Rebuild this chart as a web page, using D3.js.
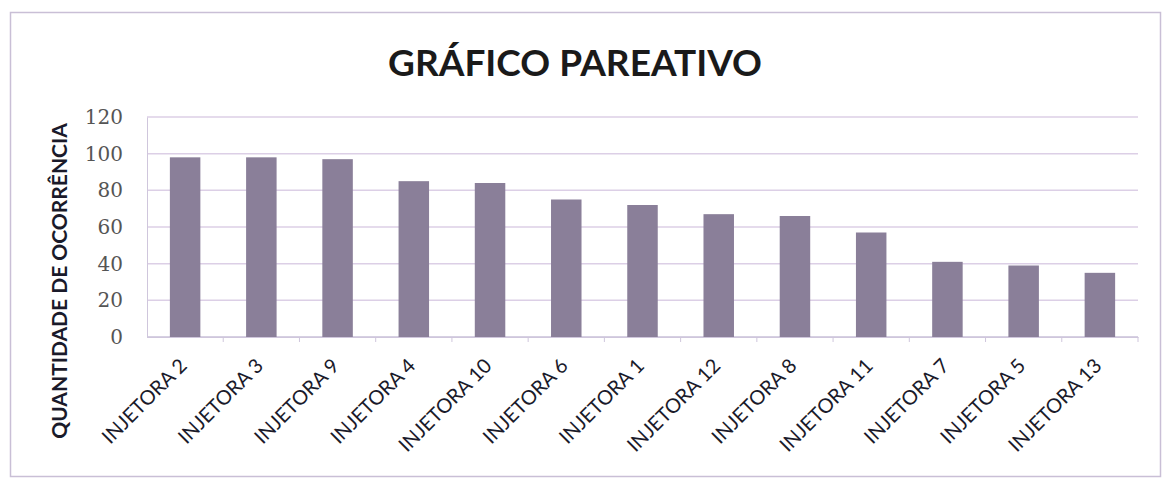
<!DOCTYPE html>
<html>
<head>
<meta charset="utf-8">
<script src="https://cdn.jsdelivr.net/npm/d3@7"></script>
<style>
  body { margin: 0; background: #fff; }
</style>
</head>
<body>
<div id="chart"></div>
<script>
// dados
const categorias = ["INJETORA 2", "INJETORA 3", "INJETORA 9", "INJETORA 4", "INJETORA 10", "INJETORA 6",
  "INJETORA 1", "INJETORA 12", "INJETORA 8", "INJETORA 11", "INJETORA 7", "INJETORA 5", "INJETORA 13"];
const ocorrencias = [98, 98, 97, 85, 84, 75, 72, 67, 66, 57, 41, 39, 35];
const yTicks = [0, 20, 40, 60, 80, 100, 120];
const titulo = "GRÁFICO PAREATIVO";
const tituloY = "QUANTIDADE DE OCORRÊNCIA";

const svgWidth = 1164;
const svgHeight = 480;
const margin = { top: 117, right: 26, bottom: 143, left: 147 };
const width = svgWidth - margin.left - margin.right;
const height = svgHeight - margin.top - margin.bottom;

const root = d3.select("#chart")
  .append("svg")
  .attr("width", svgWidth)
  .attr("height", svgHeight);

// moldura do gráfico
root.append("rect")
  .attr("x", 10.5).attr("y", 12.5)
  .attr("width", 1150).attr("height", 464)
  .attr("fill", "none")
  .attr("stroke", "#c9bfd6")
  .attr("stroke-width", 1.5);

root.append("text")
  .attr("x", 575).attr("y", 76)
  .attr("text-anchor", "middle")
  .style("font-family", "Lato, 'Open Sans', sans-serif")
  .style("font-weight", "bold")
  .style("font-size", "37px")
  .attr("fill", "#1a1a1a")
  .text(titulo);

// titulo do eixo y
root.append("text")
  .attr("transform", "translate(67,281) rotate(-90)")
  .attr("text-anchor", "middle")
  .style("font-family", "Lato, 'Open Sans', sans-serif")
  .style("font-weight", "bold")
  .style("font-size", "21px")
  .attr("fill", "#1a1a2a")
  .text(tituloY);

const svg = root.append("g")
  .attr("transform", `translate(${margin.left},${margin.top})`);

var x = d3.scaleBand()
  .domain(categorias)
  .range([0, width])
  .paddingInner(0.6)
  .paddingOuter(0.3);

var y = d3.scaleLinear()
  .domain([0, 120])
  .range([height, 0]);

// linhas de grade
svg.append("g")
  .selectAll("line")
  .data(yTicks)
  .enter()
  .append("line")
  .attr("x1", 0).attr("x2", width)
  .attr("y1", d => y(d)).attr("y2", d => y(d))
  .attr("stroke", d => d === 0 ? "#c8c0d8" : "#dccfe6")
  .attr("stroke-width", 1.5);

// eixo Y
var yAxis = svg.append("g")
  .call(d3.axisLeft(y).tickValues(yTicks).tickSize(0).tickPadding(24));
yAxis.select(".domain").attr("stroke", "#cfc6dc");
yAxis.selectAll("text")
  .style("font-family", "'DejaVu Serif', serif")
  .style("font-size", "20px")
  .attr("fill", "#555");

// barras
svg.selectAll("rect.bar")
  .data(ocorrencias)
  .enter()
  .append("rect")
  .attr("class", "bar")
  .attr("x", (d, i) => x(categorias[i]))
  .attr("y", d => y(d))
  .attr("width", x.bandwidth())
  .attr("height", d => height - y(d))
  .attr("fill", "#8a7f99");

// eixo X
var step = x.step();
var xAxis = svg.append("g")
  .attr("transform", "translate(0," + height + ")")
  .call(d3.axisBottom(x).tickSize(0).tickPadding(0));
xAxis.select(".domain").attr("stroke", "#cfc6dc");
xAxis.selectAll("g.tick").append("line")
  .attr("x1", step / 2).attr("x2", step / 2)
  .attr("y1", 0).attr("y2", 5)
  .attr("stroke", "#cfc6dc");
xAxis.selectAll("text")
  .style("font-family", "Lato, 'Open Sans', sans-serif")
  .style("font-size", "20px")
  .attr("fill", "#1a1a2a")
  .attr("text-anchor", "end")
  .attr("dy", "0")
  .attr("y", 0)
  .attr("transform", "translate(3,30) rotate(-45)");
</script>
</body>
</html>
